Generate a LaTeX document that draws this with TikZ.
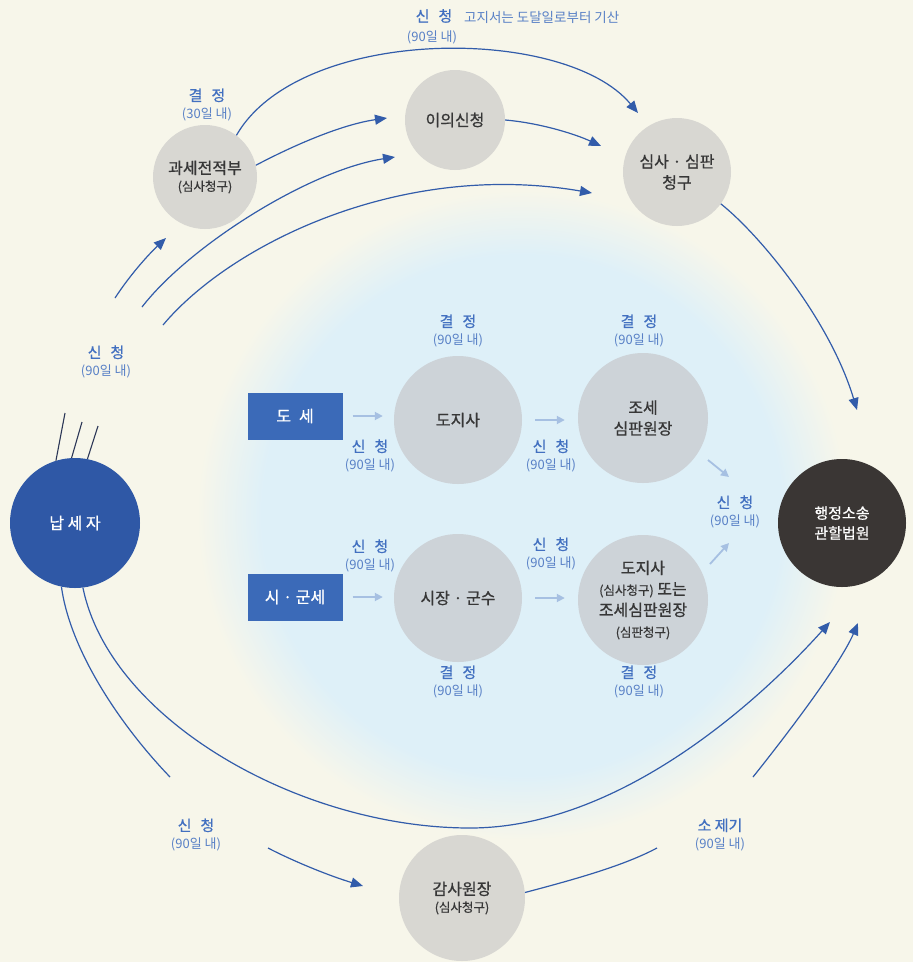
\documentclass[tikz,border=0pt]{standalone}
\usepackage{fontspec}
\setmainfont{Noto Sans CJK KR}
\newfontfamily\krm{Noto Sans CJK KR}[RawFeature={embolden=0.8}]
\usetikzlibrary{arrows.meta}
\definecolor{cream}{RGB}{247,246,234}
\definecolor{blueA}{RGB}{222,240,248}
\definecolor{taxblue}{RGB}{47,88,166}
\definecolor{boxblue}{RGB}{59,106,184}
\definecolor{courtgray}{RGB}{58,54,52}
\definecolor{grayA}{RGB}{216,215,210}
\definecolor{grayB}{RGB}{205,211,216}
\definecolor{arrblue}{RGB}{50,92,170}
\definecolor{stubcol}{RGB}{44,55,87}
\definecolor{lightarr}{RGB}{166,192,226}
\definecolor{labblue}{RGB}{66,112,192}
\definecolor{labblue2}{RGB}{88,128,198}
\definecolor{nodetext}{RGB}{55,55,55}
\pgfdeclareradialshading{bluefade}{\pgfpoint{0bp}{0bp}}{color(0bp)=(blueA); color(20bp)=(blueA); color(25bp)=(cream); color(50bp)=(cream)}
\newcommand{\twolab}[2]{{\krm\fontsize{15}{17}\selectfont\color{labblue}#1}\\{\fontsize{13}{15}\selectfont\color{labblue2}#2}}
\begin{document}
\begin{tikzpicture}[x=1pt,y=-1pt,
  circ/.style={circle, inner sep=0pt, align=center, text=nodetext, font=\krm\fontsize{16}{21}\selectfont},
  outer/.style={circ, fill=grayA},
  inner/.style={circ, fill=grayB},
  bluebox/.style={rectangle, fill=boxblue, text=white, minimum width=95pt, minimum height=47pt, inner sep=0pt, font=\krm\fontsize{16}{20}\selectfont},
  lab/.style={align=center, inner sep=0pt, font=\fontsize{12}{18}\selectfont},
  arr/.style={draw=arrblue, line width=1.2pt, -{Triangle[length=12pt,width=10pt]}},
  ln/.style={draw=arrblue, line width=1.2pt},
  stub/.style={draw=stubcol, line width=1.1pt},
  larr/.style={draw=lightarr, line width=1.8pt, -{Triangle[length=8pt,width=8pt]}}]
\useasboundingbox (0,0) rectangle (913,962);
\fill[cream] (0,0) rectangle (913,962);
\shade[shading=bluefade] (522,515) circle (325);

% main nodes
\node[circ, fill=taxblue, text=white, minimum size=130pt] (tp) at (75,523) {납 세 자};
\node[circ, fill=courtgray, text=white, minimum size=128pt, font=\krm\fontsize{15}{20}\selectfont] (court) at (842,523) {행정소송\\관할법원};
\node[outer, minimum size=104pt] (pre) at (205,177) {과세전적부\\[-4pt]{\fontsize{12.5}{15}\selectfont (심사청구)}};
\node[outer, minimum size=100pt] (obj) at (455,120) {이의신청};
\node[outer, minimum size=108pt] (rev) at (677,172) {심사 · 심판\\청구};
\node[inner, minimum size=128pt] (gov1) at (458,420) {도지사};
\node[inner, minimum size=130pt] (tt1) at (643,418) {조세\\심판원장};
\node[inner, minimum size=128pt] (mayor) at (458,598) {시장 · 군수};
\node[inner, minimum size=130pt] (tt2) at (643,600) {도지사\\{\fontsize{12.5}{15}\selectfont (심사청구)} 또는\\조세심판원장\\{\fontsize{12.5}{15}\selectfont (심판청구)}};
\node[outer, minimum size=126pt] (audit) at (462,898) {감사원장\\[-4pt]{\fontsize{12.5}{15}\selectfont (심사청구)}};
\node[bluebox] (dose) at (295,416) {도\hspace{8pt}세};
\node[bluebox] (sigun) at (295,597) {시 · 군세};

% labels
\node[lab] (l1) at (207,105) {\twolab{결\hspace{9pt}정}{(30일 내)}};
\node[lab] (l2) at (106,362) {\twolab{신\hspace{9pt}청}{(90일 내)}};
\node[lab] (l3) at (370,456) {\twolab{신\hspace{9pt}청}{(90일 내)}};
\node[lab] (l4) at (370,556) {\twolab{신\hspace{9pt}청}{(90일 내)}};
\node[lab] (l5) at (458,331) {\twolab{결\hspace{9pt}정}{(90일 내)}};
\node[lab] (l6) at (639,331) {\twolab{결\hspace{9pt}정}{(90일 내)}};
\node[lab] (l7) at (551,456) {\twolab{신\hspace{9pt}청}{(90일 내)}};
\node[lab] (l8) at (551,554) {\twolab{신\hspace{9pt}청}{(90일 내)}};
\node[lab] (l9) at (735,512) {\twolab{신\hspace{9pt}청}{(90일 내)}};
\node[lab] (l10) at (458,682) {\twolab{결\hspace{9pt}정}{(90일 내)}};
\node[lab] (l11) at (639,682) {\twolab{결\hspace{9pt}정}{(90일 내)}};
\node[lab] (l12) at (196,835) {\twolab{신\hspace{9pt}청}{(90일 내)}};
\node[lab] (l13) at (720,835) {\twolab{소 제기}{(90일 내)}};
\node[lab, font=\krm\fontsize{15}{17}\selectfont, text=labblue] (lt1) at (434,16) {신\hspace{9pt}청};
\node[lab, anchor=west, font=\fontsize{13.5}{15}\selectfont, text=labblue2] (lt2) at (464,17) {고지서는 도달일로부터 기산};
\node[lab, font=\fontsize{13}{15}\selectfont, text=labblue2] (lt3) at (432,37) {(90일 내)};

% free ends
\coordinate (tA) at (638,113);
\coordinate (tB) at (387,118);
\coordinate (s1) at (115,298);
\coordinate (tS) at (166,238);
\coordinate (s2) at (142,307);
\coordinate (tC) at (395,157);
\coordinate (s3) at (163,325);
\coordinate (tD) at (592,193);
\coordinate (tE) at (601,146);
\coordinate (tF) at (857,410);
\coordinate (u1) at (65,413);
\coordinate (u2) at (82,422);
\coordinate (u3) at (98,426);
\coordinate (b1) at (170,777);
\coordinate (m1) at (470,828);
\coordinate (tG) at (830,622);
\coordinate (s4) at (268,848);
\coordinate (tH) at (363,886);
\coordinate (e1) at (657,848);
\coordinate (s5) at (753,777);
\coordinate (tI) at (858,623);
\coordinate (d1) at (708,460);
\coordinate (d2) at (729,477);
\coordinate (d3) at (710,564);
\coordinate (d4) at (729,543);

% upper arrows
\draw[arr] (pre.53) .. controls (300,25) and (565,25) .. (tA);
\draw[arr] (pre.13) .. controls (300,142) and (345,124) .. (tB);
\draw[arr] (s1) .. controls (130,275) and (148,255) .. (tS);
\draw[arr] (s2) .. controls (190,245) and (310,170) .. (tC);
\draw[arr] (s3) .. controls (230,245) and (400,160) .. (tD);
\draw[arr] (obj.east) .. controls (540,123) and (575,134) .. (tE);
\draw[arr] (rev.-36) .. controls (760,235) and (830,320) .. (tF);
% stubs above taxpayer
\draw[stub] (tp.107) -- (u1);
\draw[stub] (tp.93) -- (u2);
\draw[stub] (tp.79) -- (u3);
% lower arrows
\draw[ln] (tp.-102) .. controls (70,650) and (120,725) .. (b1);
\draw[arr] (tp.-83) .. controls (110,720) and (300,828) .. (m1) .. controls (620,828) and (760,700) .. (tG);
\draw[arr] (s4) .. controls (295,862) and (330,876) .. (tH);
\draw[ln] (audit.5) .. controls (580,878) and (625,865) .. (e1);
\draw[arr] (s5) .. controls (785,737) and (840,665) .. (tI);

% light arrows
\draw[larr, shorten <=10pt, shorten >=11pt] (dose.east) -- (dose.east -| gov1.west);
\draw[larr, shorten <=10pt, shorten >=11pt] (sigun.east) -- (sigun.east -| mayor.west);
\draw[larr, shorten <=13pt, shorten >=13pt] (gov1.east) -- (gov1.east -| tt1.west);
\draw[larr, shorten <=13pt, shorten >=13pt] (mayor.east) -- (mayor.east -| tt2.west);
\draw[larr] (d1) -- (d2);
\draw[larr] (d3) -- (d4);
\end{tikzpicture}
\end{document}
